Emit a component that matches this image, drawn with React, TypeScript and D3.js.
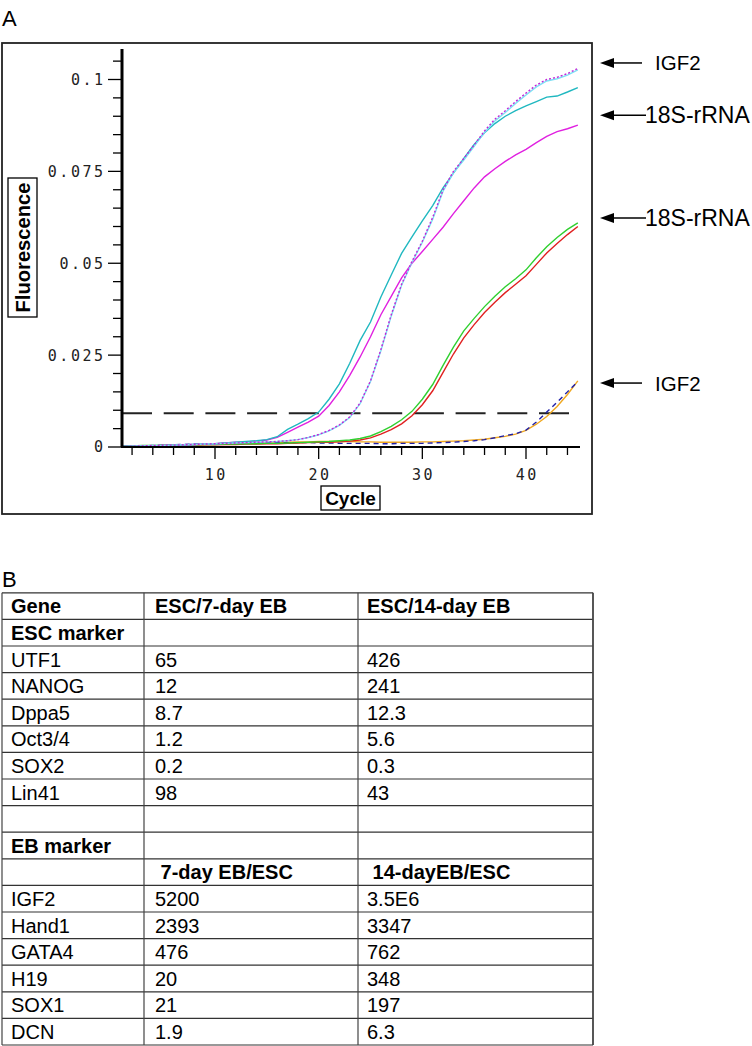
import React from 'react';
import * as d3 from 'd3';

// ---------- Panel A data (fluorescence per cycle, cycles 1..45) ----------
const teal18S = [0.0002,0.0002,0.0003,0.0003,0.0004,0.0005,0.0006,0.0007,0.0008,0.0009,0.0011,0.0013,0.0015,0.0017,0.0020,0.0028,0.0048,0.0062,0.0077,0.0095,0.0130,0.0172,0.0228,0.0290,0.0340,0.0408,0.0468,0.0527,0.0572,0.0615,0.0657,0.0705,0.0745,0.0785,0.0823,0.0855,0.0880,0.0900,0.0915,0.0928,0.0940,0.0952,0.0955,0.0966,0.0978];
const magenta18S = [0.0002,0.0002,0.0002,0.0003,0.0004,0.0005,0.0006,0.0007,0.0008,0.0009,0.0011,0.0013,0.0014,0.0016,0.0019,0.0026,0.0040,0.0054,0.0068,0.0084,0.0113,0.0150,0.0195,0.0245,0.0300,0.0360,0.0410,0.0460,0.0500,0.0532,0.0565,0.0598,0.0635,0.0670,0.0705,0.0735,0.0757,0.0777,0.0795,0.0810,0.0828,0.0845,0.0858,0.0866,0.0876];
const cyanIGF2 = [0.0001,0.0002,0.0003,0.0004,0.0004,0.0005,0.0006,0.0007,0.0008,0.0009,0.0010,0.0011,0.0012,0.0013,0.0014,0.0015,0.0017,0.0020,0.0026,0.0033,0.0044,0.0059,0.0080,0.0118,0.0178,0.0262,0.0356,0.0440,0.0502,0.0557,0.0620,0.0696,0.0746,0.0781,0.0818,0.0856,0.0887,0.0910,0.0935,0.0958,0.0980,0.0996,0.1002,0.1012,0.1026];
const purpleIGF2 = [0.0001,0.0002,0.0003,0.0004,0.0005,0.0005,0.0006,0.0007,0.0008,0.0009,0.0010,0.0011,0.0012,0.0013,0.0014,0.0015,0.0017,0.0020,0.0026,0.0034,0.0045,0.0060,0.0082,0.0120,0.0180,0.0265,0.0360,0.0443,0.0505,0.0560,0.0625,0.0700,0.0750,0.0785,0.0822,0.0860,0.0892,0.0915,0.0940,0.0963,0.0985,0.1000,0.1006,0.1016,0.1030];
const green18S = [0.0003,0.0003,0.0004,0.0004,0.0005,0.0005,0.0006,0.0006,0.0007,0.0007,0.0008,0.0008,0.0009,0.0009,0.0010,0.0010,0.0011,0.0012,0.0013,0.0014,0.0015,0.0017,0.0019,0.0023,0.0030,0.0042,0.0056,0.0074,0.0097,0.0130,0.0170,0.0222,0.0272,0.0316,0.0350,0.0382,0.0410,0.0436,0.0458,0.0482,0.0515,0.0545,0.0570,0.0592,0.0610];
const red18S = [0.0002,0.0002,0.0003,0.0003,0.0004,0.0004,0.0005,0.0005,0.0006,0.0006,0.0007,0.0007,0.0008,0.0008,0.0009,0.0009,0.0010,0.0011,0.0012,0.0013,0.0013,0.0014,0.0016,0.0019,0.0025,0.0035,0.0047,0.0063,0.0085,0.0115,0.0153,0.0203,0.0253,0.0297,0.0333,0.0366,0.0394,0.0420,0.0443,0.0466,0.0497,0.0528,0.0554,0.0578,0.0600];
const blueIGF2 = [0.0001,0.0002,0.0003,0.0004,0.0005,0.0006,0.0007,0.0008,0.0008,0.0009,0.0010,0.0010,0.0011,0.0011,0.0011,0.0012,0.0012,0.0012,0.0012,0.0011,0.0011,0.0010,0.0010,0.0010,0.0010,0.0009,0.0009,0.0010,0.0010,0.0010,0.0011,0.0012,0.0013,0.0015,0.0017,0.0020,0.0025,0.0031,0.0036,0.0046,0.0068,0.0095,0.0122,0.0150,0.0178];
const orangeIGF2 = [0.0002,0.0002,0.0003,0.0003,0.0004,0.0005,0.0006,0.0006,0.0007,0.0008,0.0009,0.0010,0.0011,0.0012,0.0012,0.0013,0.0013,0.0014,0.0014,0.0015,0.0015,0.0015,0.0015,0.0014,0.0014,0.0013,0.0013,0.0013,0.0013,0.0014,0.0014,0.0015,0.0016,0.0017,0.0019,0.0021,0.0025,0.0029,0.0035,0.0045,0.0062,0.0083,0.0110,0.0143,0.0180];

const threshold = 0.0092;
const yMajorTicks = [0, 0.025, 0.05, 0.075, 0.1];
const yMajorLabels = ['0', '0.025', '0.05', '0.075', '0.1'];
const yMinorTicks = [0.005,0.01,0.015,0.02,0.03,0.035,0.04,0.045,0.055,0.06,0.065,0.07,0.08,0.085,0.09,0.095,0.105];
const xTicks = [2,4,6,8,10,12,14,16,18,20,22,24,26,28,30,32,34,36,38,40,42,44];
const xMajorTicks = [10, 20, 30, 40];

const legendLabels = ['IGF2', '18S-rRNA', '18S-rRNA', 'IGF2'];
const legendValues = [0.1045, 0.0903, 0.0623, 0.0174];

// ---------- Panel B data ----------
const tableGenes = ['Gene','ESC marker','UTF1','NANOG','Dppa5','Oct3/4','SOX2','Lin41','','EB marker','','IGF2','Hand1','GATA4','H19','SOX1','DCN'];
const tableCol1 = ['ESC/7-day EB','','65','12','8.7','1.2','0.2','98','','',' 7-day EB/ESC','5200','2393','476','20','21','1.9'];
const tableCol2 = ['ESC/14-day EB','','426','241','12.3','5.6','0.3','43','','',' 14-dayEB/ESC','3.5E6','3347','762','348','197','6.3'];
const boldRows = [0, 1, 9, 10];

export default function App() {
  const x = d3.scaleLinear().domain([10, 40]).range([215, 526]);
  const y = d3.scaleLinear().domain([0, 0.1]).range([447, 79.5]);

  const line = d3.line<number>()
    .x((_, i) => x(i + 1))
    .y((d) => y(d));

  const series = [
    { data: orangeIGF2, color: '#f0a820', dash: undefined as string | undefined },
    { data: blueIGF2, color: '#2020a8', dash: '5 4' },
    { data: red18S, color: '#e02020', dash: undefined },
    { data: green18S, color: '#30d030', dash: undefined },
    { data: magenta18S, color: '#e020e0', dash: undefined },
    { data: teal18S, color: '#20b8c0', dash: undefined },
    { data: cyanIGF2, color: '#7ee0f4', dash: undefined },
    { data: purpleIGF2, color: '#c028d8', dash: '2 2' },
  ];

  const mono = "'DejaVu Sans Mono', monospace";
  const sans = "'Liberation Sans', Arial, sans-serif";

  // table geometry
  const tTop = 592.8;
  const rowH = 26.6;
  const colX = [2, 144, 358, 593];
  const tBottom = tTop + rowH * tableGenes.length;

  return (
    <svg width={752} height={1046} style={{ position: 'absolute', left: 0, top: 0, background: '#fff' }}>
      <rect x={0} y={0} width={752} height={1046} fill="#fff" />
      <text x={2} y={26} fontFamily={sans} fontSize={22} fill="#000">A</text>
      {/* frame */}
      <rect x={2} y={43} width={590} height={471} fill="none" stroke="#222" strokeWidth={1.8} />

      {/* threshold */}
      <line x1={122} x2={570} y1={y(threshold)} y2={y(threshold)} stroke="#222" strokeWidth={2} strokeDasharray="30 11.7" />

      {/* curves */}
      {series.map((s, i) => (
        <path key={i} d={line(s.data) || ''} fill="none" stroke={s.color} strokeWidth={1.4} strokeDasharray={s.dash} />
      ))}

      {/* y axis */}
      <line x1={122} x2={122} y1={49} y2={447} stroke="#000" strokeWidth={3} />
      {yMinorTicks.map((t) => (
        <line key={'ym' + t} x1={113} x2={122} y1={y(t)} y2={y(t)} stroke="#000" strokeWidth={1.3} />
      ))}
      {yMajorTicks.map((t, i) => (
        <g key={'yM' + t}>
          <line x1={108} x2={122} y1={y(t)} y2={y(t)} stroke="#000" strokeWidth={1.3} />
          <text x={105.5} y={y(t)} dy="0.36em" textAnchor="end" fontFamily={mono} fontSize={15} letterSpacing={2.5} fill="#222">{yMajorLabels[i]}</text>
        </g>
      ))}

      {/* x axis */}
      <line x1={121} x2={580} y1={447} y2={447} stroke="#000" strokeWidth={2} />
      {xTicks.map((t) => (
        <line key={'xt' + t} x1={x(t)} x2={x(t)} y1={447} y2={xMajorTicks.includes(t) ? 459 : 455} stroke="#000" strokeWidth={1.3} />
      ))}
      {xMajorTicks.map((t) => (
        <text key={'xl' + t} x={x(t) + 1.25} y={479.5} textAnchor="middle" fontFamily={mono} fontSize={15} letterSpacing={2.5} fill="#222">{t}</text>
      ))}

      {/* axis titles */}
      <rect x={321} y={486} width={59} height={24} fill="#fff" stroke="#000" strokeWidth={1.3} />
      <text x={350.5} y={504.5} textAnchor="middle" fontFamily={sans} fontWeight="bold" fontSize={19} fill="#000">Cycle</text>
      <rect x={8} y={178} width={29} height={139} fill="#fff" stroke="#000" strokeWidth={1.3} />
      <text transform="translate(30,247.5) rotate(-90)" textAnchor="middle" fontFamily={sans} fontWeight="bold" fontSize={21} textLength={130} lengthAdjust="spacingAndGlyphs" fill="#000">Fluorescence</text>

      {/* legend arrows */}
      {legendLabels.map((lab, i) => {
        const yy = y(legendValues[i]);
        const isIGF = lab === 'IGF2';
        return (
          <g key={'lg' + i}>
            <line x1={610} x2={isIGF ? 642 : 646} y1={yy} y2={yy} stroke="#000" strokeWidth={1.5} />
            <path d={`M600,${yy} L614,${yy - 5} L614,${yy + 5} Z`} fill="#000" />
            <text x={isIGF ? 655 : 645} y={yy + 7.5} fontFamily={sans} fontSize={isIGF ? 20.5 : 23} fill="#000">{lab}</text>
          </g>
        );
      })}

      {/* Panel B */}
      <text x={2} y={587} fontFamily={sans} fontSize={22} fill="#000">B</text>
      {tableGenes.map((g, r) => {
        const top = tTop + r * rowH;
        const bold = boldRows.includes(r);
        const base = top + 20.5;
        return (
          <g key={'row' + r}>
            <text x={11} y={base} fontFamily={sans} fontSize={20} fontWeight={bold ? 'bold' : 'normal'} fill="#000">{g}</text>
            <text x={155} y={base} fontFamily={sans} fontSize={20} fontWeight={bold ? 'bold' : 'normal'} fill="#000" style={{ whiteSpace: 'pre' }}>{tableCol1[r]}</text>
            <text x={367} y={base} fontFamily={sans} fontSize={20} fontWeight={bold ? 'bold' : 'normal'} fill="#000" style={{ whiteSpace: 'pre' }}>{tableCol2[r]}</text>
          </g>
        );
      })}
      {d3.range(tableGenes.length + 1).map((r) => (
        <line key={'hl' + r} x1={colX[0]} x2={colX[3]} y1={tTop + r * rowH} y2={tTop + r * rowH} stroke="#333" strokeWidth={1.2} />
      ))}
      {colX.map((cx, i) => (
        <line key={'vl' + i} x1={cx} x2={cx} y1={tTop} y2={tBottom} stroke="#444" strokeWidth={i === 3 ? 1.8 : 1.2} />
      ))}
    </svg>
  );
}
